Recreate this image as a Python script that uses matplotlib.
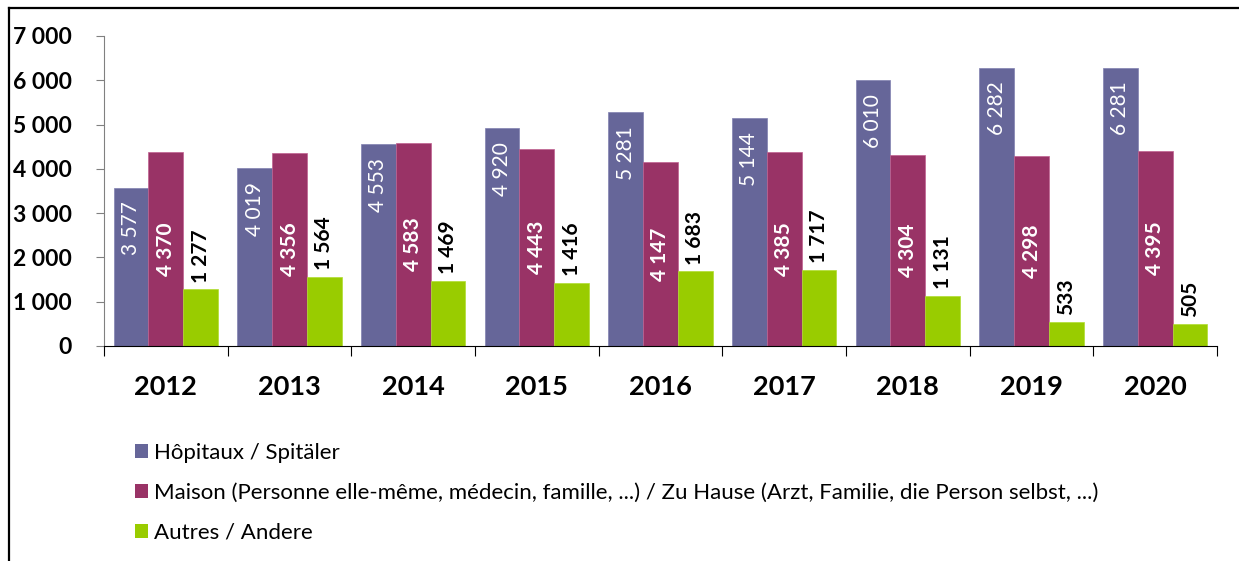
import matplotlib
matplotlib.use("Agg")
import matplotlib.pyplot as plt
import numpy as np
from matplotlib.patches import Patch
from matplotlib.lines import Line2D

years = ["2012", "2013", "2014", "2015", "2016", "2017", "2018", "2019", "2020"]
hopitaux = [3577, 4019, 4553, 4920, 5281, 5144, 6010, 6282, 6281]
maison = [4370, 4356, 4583, 4443, 4147, 4385, 4304, 4298, 4395]
autres = [1277, 1564, 1469, 1416, 1683, 1717, 1131, 533, 505]
series_labels = [
    "Hôpitaux / Spitäler",
    "Maison (Personne elle-même, médecin, famille, ...) / Zu Hause (Arzt, Familie, die Person selbst, ...)",
    "Autres / Andere",
]
colors = ["#666699", "#993366", "#99CC00"]

plt.rcParams['font.family'] = ['Lato', 'DejaVu Sans']

W, H = 1239, 561
fig = plt.figure(figsize=(W / 100, H / 100), dpi=100)
ax = fig.add_axes([104 / W, (H - 346) / H, (1217 - 104) / W, (346 - 36) / H])

x = np.arange(len(years))
bw = 0.281
fmt = lambda v: f"{v:,}".replace(",", " ")

b1 = ax.bar(x - bw, hopitaux, bw, color=colors[0], edgecolor="#8080b0", linewidth=0.5)
b2 = ax.bar(x, maison, bw, color=colors[1], edgecolor="#c06090", linewidth=0.5)
b3 = ax.bar(x + bw, autres, bw, color=colors[2], edgecolor="#b0dd30", linewidth=0.5)

for xi, v in zip(x, hopitaux):
    ax.annotate(fmt(v), (xi - bw, v), xytext=(0, -10), textcoords="offset points",
                rotation=90, ha="center", va="top", color="white", fontsize=15)
for xi, v in zip(x, maison):
    ax.text(xi, v / 2, fmt(v), rotation=90, ha="center", va="center",
            color="white", fontsize=15, fontweight="bold")
for xi, v in zip(x, autres):
    ax.annotate(fmt(v), (xi + bw, v), xytext=(0, 5), textcoords="offset points",
                rotation=90, ha="center", va="bottom", color="black", fontsize=15,
                fontweight="bold")

ax.set_ylim(0, 7000)
ax.set_xlim(-0.5, len(years) - 0.5)
ax.set_yticks(np.arange(0, 7001, 1000))
ax.set_yticklabels([fmt(v) for v in range(0, 7001, 1000)], fontsize=16.5, fontweight="bold")
ax.tick_params(axis="y", length=6, pad=17, color="#808080")

ax.set_xticks(np.arange(-0.5, len(years), 1.0))
ax.set_xticklabels([])
ax.set_xticks(x, minor=True)
ax.set_xticklabels(years, minor=True, fontsize=19.5, fontweight="bold")
ax.tick_params(axis="x", which="major", length=7, color="black")
ax.tick_params(axis="x", which="minor", length=0, pad=21)

for s in ["top", "right"]:
    ax.spines[s].set_visible(False)
ax.spines["left"].set_color("#808080")
ax.spines["bottom"].set_color("black")

handles = [Patch(facecolor=c, edgecolor="none") for c in colors]
fig.legend(handles, series_labels, loc="upper left", bbox_to_anchor=(126 / W, 1 - 434 / H),
           frameon=False, fontsize=16, handlelength=0.6, handleheight=0.6,
           handletextpad=0.25, labelspacing=0.9, borderaxespad=0)

fig.add_artist(Line2D([9 / W, 1], [1 - 8 / H, 1 - 8 / H], transform=fig.transFigure,
                      color="black", linewidth=1.6))
fig.add_artist(Line2D([9 / W, 9 / W], [0, 1 - 8 / H], transform=fig.transFigure,
                      color="black", linewidth=1.6))

fig.savefig("out.png", dpi=100)
